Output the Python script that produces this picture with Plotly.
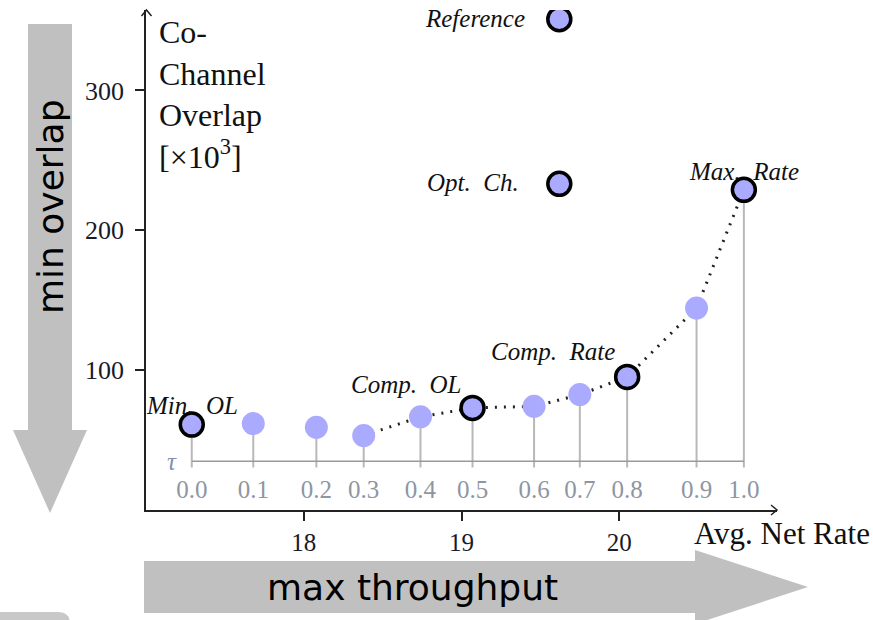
import plotly.graph_objects as go

# ---------------- data ----------------
tau = [0.0, 0.1, 0.2, 0.3, 0.4, 0.5, 0.6, 0.7, 0.8, 0.9, 1.0]
tau_labels = ["0.0", "0.1", "0.2", "0.3", "0.4", "0.5", "0.6", "0.7", "0.8", "0.9", "1.0"]
avg_net_rate = [17.29, 17.68, 18.08, 18.38, 18.74, 19.07, 19.46, 19.75, 20.05, 20.49, 20.79]
overlap = [61.1, 61.8, 59.1, 53.2, 66.6, 73.0, 74.1, 82.5, 95.1, 144.4, 228.9]

highlight_idx = [0, 5, 8, 10]
highlight_names = ["Min.\u00a0 OL", "Comp.\u00a0 OL", "Comp.\u00a0 Rate", "Max.\u00a0 Rate"]

extra_names = ["Opt.\u00a0 Ch.", "Reference"]
extra_rate = [19.62, 19.62]
extra_overlap = [233.2, 350.9]

curve_start = 3           # dotted curve runs from tau = 0.3 to 1.0
tau_baseline = 34.9       # level of the tau axis inside the plot
stem_bottom = 30.4
tau_label_level = 13.4

x_ticks = [18, 19, 20]
y_ticks = [100, 200, 300]
x_range = [17, 21]
y_range = [0, 357.5]

# ---------------- layout geometry (pixels) ----------------
W, H = 873, 620
L, R, T, B = 146, 777, 10, 510


def pxx(x):
    return (x - L) / (R - L)


def pxy(y):
    return (B - y) / (B - T)


def path(points):
    s = "M " + " L ".join(f"{pxx(a):.5f},{pxy(b):.5f}" for a, b in points)
    return s + " Z"


GRAY = "#c0c0c0"
SERIF = "Liberation Serif"
MARK = "#aaaaff"

fig = go.Figure()

# stems
sx, sy = [], []
for r, o in zip(avg_net_rate, overlap):
    sx += [r, r, None]
    sy += [o, stem_bottom, None]
fig.add_trace(go.Scatter(x=sx, y=sy, mode="lines",
                         line=dict(color="#b8b8b8", width=2), hoverinfo="skip"))

# tau baseline
fig.add_trace(go.Scatter(x=[avg_net_rate[0], avg_net_rate[-1]], y=[tau_baseline, tau_baseline],
                         mode="lines", line=dict(color="#9a9a9a", width=1.5), hoverinfo="skip"))

# dotted curve
fig.add_trace(go.Scatter(x=avg_net_rate[curve_start:], y=overlap[curve_start:], mode="lines",
                         line=dict(color="#222222", width=3, dash="2px,7px"), hoverinfo="skip"))

# plain markers
plain = [i for i in range(len(tau)) if i not in highlight_idx]
fig.add_trace(go.Scatter(x=[avg_net_rate[i] for i in plain], y=[overlap[i] for i in plain],
                         mode="markers", marker=dict(size=23, color=MARK, line=dict(width=0))))

# highlighted markers
hx = [avg_net_rate[i] for i in highlight_idx] + extra_rate
hy = [overlap[i] for i in highlight_idx] + extra_overlap
fig.add_trace(go.Scatter(x=hx, y=hy, mode="markers",
                         marker=dict(size=23, color=MARK, line=dict(width=3.5, color="#000000"))))

# tau labels
fig.add_trace(go.Scatter(x=avg_net_rate, y=[tau_label_level] * len(tau), mode="text",
                         text=tau_labels, textposition="middle center",
                         textfont=dict(family=SERIF, size=25, color="#8e96a3"), hoverinfo="skip"))

annotations = []
# labels of highlighted points (offsets in pixels)
offsets = [(0, 19, "center"), (-67, 23, "center"), (-74, 25, "center"), (0, 18, "center")]
for i, name, (dx, dy, anc) in zip(highlight_idx, highlight_names, offsets):
    annotations.append(dict(x=avg_net_rate[i], y=overlap[i], xref="x", yref="y", text=f"<i>{name}</i>",
                            showarrow=False, xshift=dx, yshift=dy, xanchor=anc, yanchor="middle",
                            font=dict(family=SERIF, size=25, color="#111111")))
for name, r, o, dx in zip(extra_names, extra_rate, extra_overlap, [-38, -32]):
    annotations.append(dict(x=r, y=o, xref="x", yref="y", text=f"<i>{name}</i>",
                            showarrow=False, xshift=dx, yshift=1, xanchor="right", yanchor="middle",
                            font=dict(family=SERIF, size=25, color="#111111")))

# tau symbol
annotations.append(dict(x=pxx(172), y=pxy(461), xref="paper", yref="paper", text="<i>τ</i>",
                        showarrow=False, xanchor="center", yanchor="middle",
                        font=dict(family=SERIF, size=25, color="#8090b0")))

# y axis title
annotations.append(dict(x=pxx(157), y=pxy(12), xref="paper", yref="paper",
                        text="Co-<br>Channel<br>Overlap<br>[×10<sup>3</sup>]",
                        showarrow=False, xanchor="left", yanchor="top", align="left",
                        font=dict(family=SERIF, size=32, color="#111111")))
# x axis title
annotations.append(dict(x=pxx(872), y=pxy(533), xref="paper", yref="paper", text="Avg. Net Rate",
                        showarrow=False, xanchor="right", yanchor="middle",
                        font=dict(family=SERIF, size=31, color="#111111")))

# big arrow texts
annotations.append(dict(x=pxx(50), y=pxy(207), xref="paper", yref="paper", text="min overlap",
                        textangle=-90, showarrow=False, xanchor="center", yanchor="middle",
                        font=dict(family="DejaVu Sans", size=36, color="#000000")))
annotations.append(dict(x=pxx(412), y=pxy(587), xref="paper", yref="paper", text="max throughput",
                        showarrow=False, xanchor="center", yanchor="middle",
                        font=dict(family="DejaVu Sans", size=36, color="#000000")))

shapes = [
    # left big arrow
    dict(type="path", xref="paper", yref="paper", layer="below", line=dict(width=0), fillcolor=GRAY,
         path=path([(28, 24), (72, 24), (72, 430), (87, 430), (50, 513), (13, 430), (28, 430)])),
    # bottom big arrow
    dict(type="path", xref="paper", yref="paper", layer="below", line=dict(width=0), fillcolor=GRAY,
         path=path([(144, 561), (695, 561), (695, 550), (808, 587), (695, 624), (695, 613), (144, 613)])),
    # bottom-left rounded fragment
    dict(type="path", xref="paper", yref="paper", layer="below", line=dict(width=0), fillcolor="#c8c8c8",
         path=f"M {pxx(0)},{pxy(625)} L {pxx(0)},{pxy(612)} L {pxx(58)},{pxy(612)} "
              f"Q {pxx(70)},{pxy(612)} {pxx(70)},{pxy(624)} L {pxx(70)},{pxy(625)} Z"),
    # axis arrowheads
    dict(type="path", xref="paper", yref="paper", line=dict(width=1.5, color="#222222"),
         path=f"M {pxx(141.5)},{pxy(16)} L {pxx(146.5)},{pxy(10)} L {pxx(151.5)},{pxy(16)}"),
    dict(type="path", xref="paper", yref="paper", line=dict(width=1.5, color="#222222"),
         path=f"M {pxx(771)},{pxy(505)} L {pxx(777)},{pxy(510)} L {pxx(771)},{pxy(515)}"),
]

fig.update_layout(
    width=W, height=H,
    margin=dict(l=L, r=W - R, t=T, b=H - B, pad=0),
    paper_bgcolor="white", plot_bgcolor="rgba(0,0,0,0)",
    showlegend=False,
    annotations=annotations,
    shapes=shapes,
    xaxis=dict(range=x_range, tickvals=x_ticks, ticktext=[str(v) for v in x_ticks],
               showgrid=False, zeroline=False, showline=True, linecolor="#222222", linewidth=1.5,
               ticks="outside", ticklen=9, tickwidth=1.5, tickcolor="#222222",
               ticklabelstandoff=0,
               tickfont=dict(family=SERIF, size=25, color="#1a1a2a")),
    yaxis=dict(range=y_range, tickvals=y_ticks, ticktext=[str(v) for v in y_ticks],
               showgrid=False, zeroline=False, showline=True, linecolor="#222222", linewidth=1.5,
               ticks="outside", ticklen=9, tickwidth=1.5, tickcolor="#222222",
               ticklabelstandoff=6,
               tickfont=dict(family=SERIF, size=26, color="#1a1a2a")),
)

fig.write_html("out.html", config={"displayModeBar": False},
               post_script="document.body.style.margin='0';document.body.style.overflow='hidden';")
